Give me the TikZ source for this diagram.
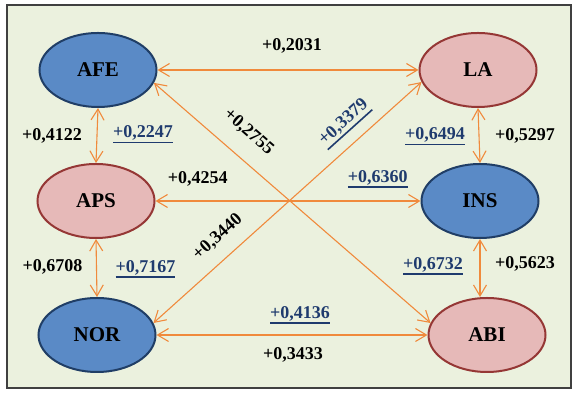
\documentclass[tikz,border=0pt]{standalone}
\usepackage{fontspec}
\setmainfont{Liberation Serif}
\usetikzlibrary{arrows.meta, positioning, shapes.geometric}
\definecolor{panelbg}{HTML}{EBF1DE}
\definecolor{framegray}{HTML}{404040}
\definecolor{blobblue}{HTML}{5A8AC6}
\definecolor{blobnavy}{HTML}{203E66}
\definecolor{blobpink}{HTML}{E6B9B8}
\definecolor{blobred}{HTML}{953735}
\definecolor{linkorange}{HTML}{F08A3C}
\definecolor{coefblue}{HTML}{1F3B6E}
\newcommand{\coef}[1]{\textcolor{coefblue}{\leavevmode\vtop{\hbox{#1}\kern1.5pt\hrule height 1.6pt}}}

\begin{document}
\begin{tikzpicture}[x=1pt, y=1pt,
  latent/.style={ellipse, line width=2pt, minimum width=117pt, minimum height=74pt,
                 inner sep=0pt, font=\fontsize{21}{24}\selectfont\bfseries},
  bluevar/.style={latent, draw=blobnavy, fill=blobblue},
  pinkvar/.style={latent, draw=blobred, fill=blobpink},
  coefnode/.style={inner sep=1pt, text=black, font=\fontsize{18}{20}\selectfont\bfseries},
  link/.style={{Straight Barb[length=11pt, width=13pt]}-{Straight Barb[length=11pt, width=13pt]},
               linkorange, line width=1.1pt}
]
\useasboundingbox (0,0) rectangle (578,395);
\draw[framegray, line width=1.5pt, fill=panelbg] (7,7) rectangle (571,390);

\node[bluevar] (AFE) at (98,325) {AFE};
\node[pinkvar, right=261pt of AFE] (LA) {LA};
\node[pinkvar, below=55pt of AFE, xshift=-2pt] (APS) {APS};
\node[bluevar, right=265pt of APS] (INS) {INS};
\node[bluevar, below=58pt of APS, xshift=1pt] (NOR) {NOR};
\node[pinkvar, below=58pt of INS, xshift=7pt] (ABI) {ABI};

\draw[link] (AFE) -- node[coefnode, xshift=4pt, yshift=24pt]{+0,2031} (LA);
\draw[link] (APS) -- node[coefnode, pos=0.159, yshift=22pt]{+0,4254}
                     node[coefnode, pos=0.839, yshift=22pt]{\coef{+0,6360}} (INS);
\draw[link] (NOR) -- node[coefnode, xshift=8pt, yshift=20pt]{\coef{+0,4136}}
                     node[coefnode, xshift=1pt, yshift=-20pt]{+0,3433} (ABI);

\draw[link] (AFE.south) -- node[coefnode, xshift=-45pt]{+0,4122}
                           node[coefnode, xshift=46pt, yshift=1pt]{\coef{+0,2247}} (APS.north);
\draw[link] (APS.south) -- node[coefnode, xshift=-44pt, yshift=1pt]{+0,6708}
                           node[coefnode, xshift=49pt, yshift=-1pt]{\coef{+0,7167}} (NOR.north);
\draw[link] (LA.south) -- node[coefnode, xshift=-44pt, yshift=-1pt]{\coef{+0,6494}}
                          node[coefnode, xshift=46pt]{+0,5297} (INS.north);
\draw[link] (INS.south) -- node[coefnode, xshift=-47pt, yshift=2pt]{\coef{+0,6732}}
                           node[coefnode, xshift=45pt, yshift=4pt]{+0,5623} (INS.south |- ABI.north);

\draw[link] (AFE.-13) -- node[coefnode, pos=0.283, sloped, above=16pt]{+0,2755} (ABI.168);
\draw[link] (NOR.12) -- node[coefnode, pos=0.292, sloped, above=12pt]{+0,3440}
                        node[coefnode, pos=0.764, sloped, above=10pt]{\coef{+0,3379}} (LA.192);
\end{tikzpicture}
\end{document}
